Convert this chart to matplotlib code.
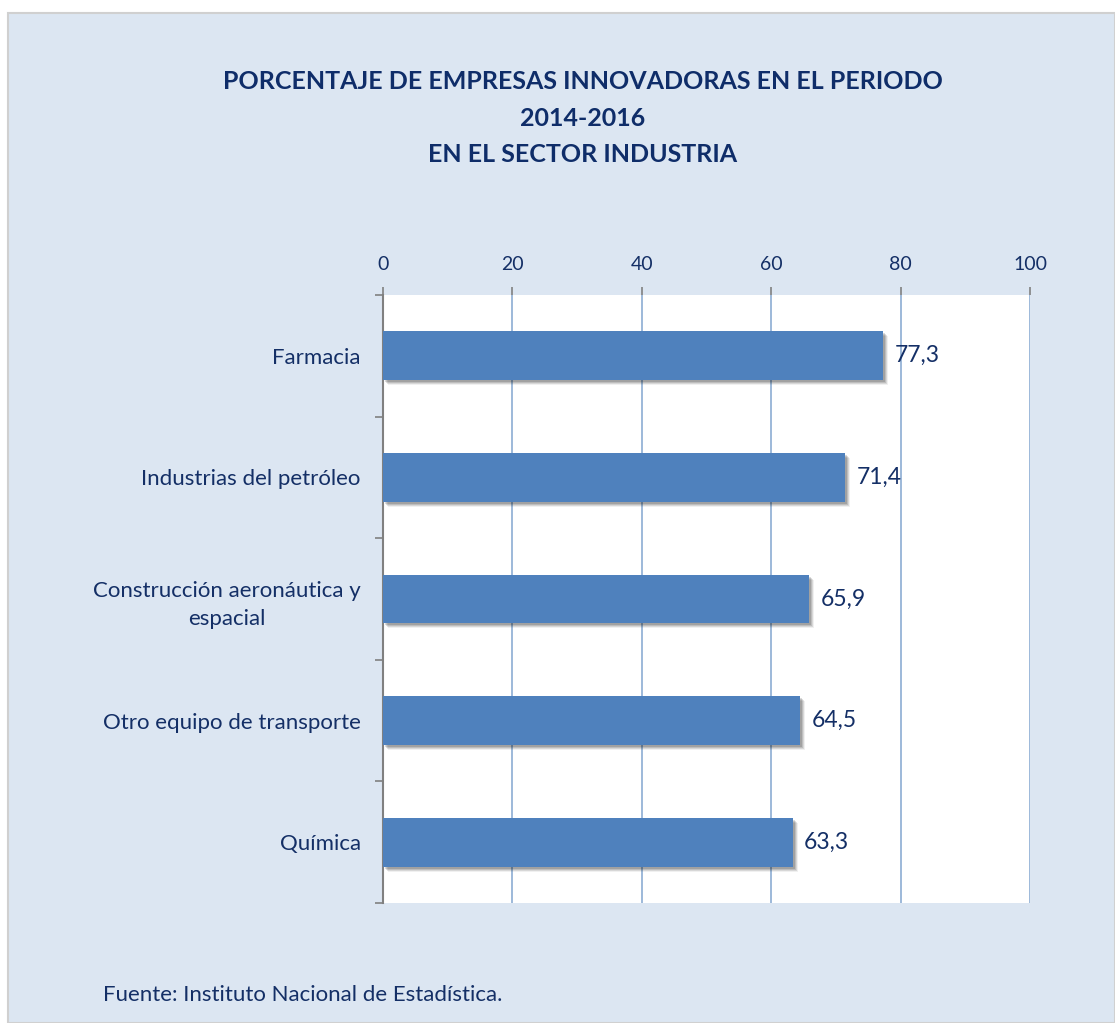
import matplotlib
matplotlib.use("Agg")
import matplotlib.pyplot as plt
import matplotlib.patches as mpatches
import matplotlib.transforms as mtransforms

categories = ["Farmacia", "Industrias del petróleo", "Construcción aeronáutica y\nespacial",
              "Otro equipo de transporte", "Química"]
values = [77.3, 71.4, 65.9, 64.5, 63.3]
value_labels = ["77,3", "71,4", "65,9", "64,5", "63,3"]
x_ticks = [0, 20, 40, 60, 80, 100]

title = "PORCENTAJE DE EMPRESAS INNOVADORAS EN EL PERIODO\n2014-2016\nEN EL SECTOR INDUSTRIA"
source = "Fuente: Instituto Nacional de Estadística."

W, H = 1115, 1023
fig = plt.figure(figsize=(W / 100, H / 100), dpi=100)
fig.patch.set_facecolor("white")
plt.rcParams["font.family"] = ["Lato", "DejaVu Sans"]

navy = "#142F66"
panel_bg = "#DCE6F2"
bar_color = "#4F81BD"
grid_color = "#95B3D7"

# Background panel
panel = mpatches.Rectangle((8 / W, 0), 1 - 8 / W, 1 - 13 / H, transform=fig.transFigure,
                           facecolor=panel_bg, edgecolor="#D0D0D0", linewidth=1.5, zorder=-5)
fig.patches.append(panel)

fig.text(583 / W, 1 - 118 / H, title, ha="center", va="center", fontsize=18,
         fontweight="bold", color="#0F2D69", linespacing=1.72)

ax = fig.add_axes([383 / W, 1 - 903 / H, (1030 - 383) / W, (903 - 295) / H])
ax.set_zorder(2)
ax.set_facecolor("white")

n = len(categories)
ypos = list(range(n))
bar_h = 0.4

# Soft drop shadow under each bar
for dx, dy, a in [(4, -4, 0.10), (3, -3, 0.12), (2, -2, 0.14), (5, -5, 0.06)]:
    off = mtransforms.offset_copy(ax.transData, fig=fig, x=dx * 0.72, y=dy * 0.72, units="points")
    ax.barh(ypos, values, height=bar_h, color="black", alpha=a, transform=off, zorder=2,
            linewidth=0)

ax.barh(ypos, values, height=bar_h, color=bar_color, zorder=3, linewidth=0)

for y, v, lab in zip(ypos, values, value_labels):
    ax.text(v + 1.8, y, lab, va="center", ha="left", fontsize=16.5, color=navy, zorder=4)

ax.set_xlim(0, 100)
ax.set_ylim(n - 0.5, -0.5)
ax.xaxis.tick_top()
ax.set_xticks(x_ticks)
ax.set_xticklabels([str(t) for t in x_ticks], fontsize=14, color=navy)
ax.tick_params(axis="x", length=6, width=1.2, color="#808080", pad=10)
ax.grid(axis="x", color=grid_color, linewidth=1.3, zorder=1)

# Category ticks at the band boundaries, labels centred on the bars
ax.set_yticks([i - 0.5 for i in range(n + 1)])
ax.set_yticklabels([])
ax.set_yticks(ypos, minor=True)
ax.set_yticklabels(categories, minor=True, fontsize=16, color=navy, ha="right",
                   multialignment="center", linespacing=1.5)
ax.tick_params(axis="y", which="major", length=6, width=1.2, color="#808080")
ax.tick_params(axis="y", which="minor", length=0, pad=16)

for s in ["right", "bottom", "top"]:
    ax.spines[s].set_visible(False)
ax.spines["left"].set_color("#808080")
ax.spines["left"].set_linewidth(1.5)

fig.text(103 / W, 1 - 995 / H, source, ha="left", va="center", fontsize=16, color=navy)

fig.savefig("out.png", dpi=100, facecolor=fig.get_facecolor())
